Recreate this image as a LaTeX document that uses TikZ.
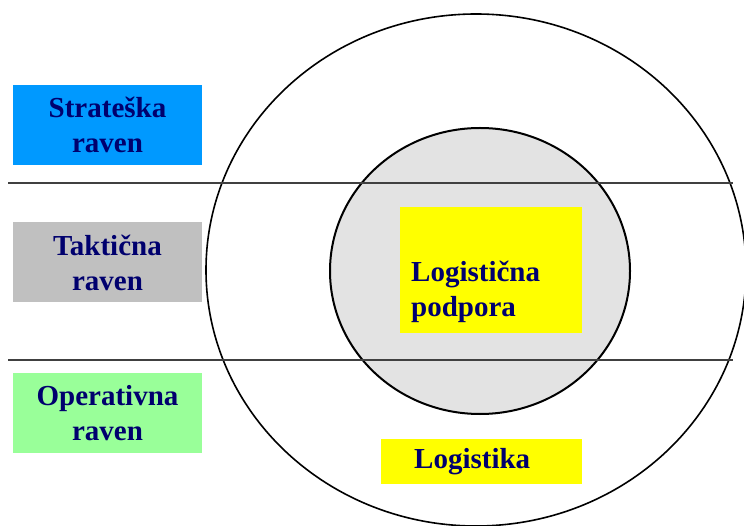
\documentclass[tikz,border=0pt]{standalone}
\usepackage{fontspec}
\setmainfont{Liberation Serif}
\usepackage{tikz}

\definecolor{stratblue}{RGB}{0,153,255}
\definecolor{taktgray}{RGB}{192,192,192}
\definecolor{opergreen}{RGB}{153,255,153}
\definecolor{logyellow}{RGB}{255,255,0}
\definecolor{ringgray}{RGB}{227,227,227}
\definecolor{lvltext}{RGB}{0,0,110}
\definecolor{divline}{RGB}{64,64,64}

\begin{document}
\begin{tikzpicture}[x=1pt, y=-1pt,
    lvlfont/.style={text=lvltext, font=\fontsize{29}{35}\selectfont\bfseries},
    levelbox/.style={lvlfont, minimum width=189pt, minimum height=80pt, inner sep=0pt, align=center},
    divider/.style={divline, line width=2.2pt}]
    \useasboundingbox (0,0) rectangle (744,526);
    \clip (0,0) rectangle (744,526);

    \draw[line width=1.6pt] (476,270) ellipse [x radius=270pt, y radius=256pt];
    \filldraw[fill=ringgray, line width=2pt] (480,271) ellipse [x radius=150pt, y radius=143pt];

    \draw[divider] (8,183) -- (733,183);
    \draw[divider] (8,360) -- (733,360);

    \node[levelbox, fill=stratblue] (strat) at (107.5,125) {Strateška\\raven};
    \node[levelbox, fill=taktgray] (takt) at (107.5,262.5) {Taktična\\raven};
    \node[levelbox, fill=opergreen] (oper) at (107.5,413) {Operativna\\raven};

    \fill[logyellow] (400,207) rectangle (582,333);
    \node[lvlfont, anchor=base west, align=left, inner sep=0pt] (podpora) at (411,317) {Logistična\\podpora};

    \node[lvlfont, fill=logyellow, anchor=west, minimum height=45pt, text width=135pt,
          inner xsep=33pt, inner ysep=0pt, align=left] (logistika) at (381,461.5) {Logistika};
\end{tikzpicture}
\end{document}
